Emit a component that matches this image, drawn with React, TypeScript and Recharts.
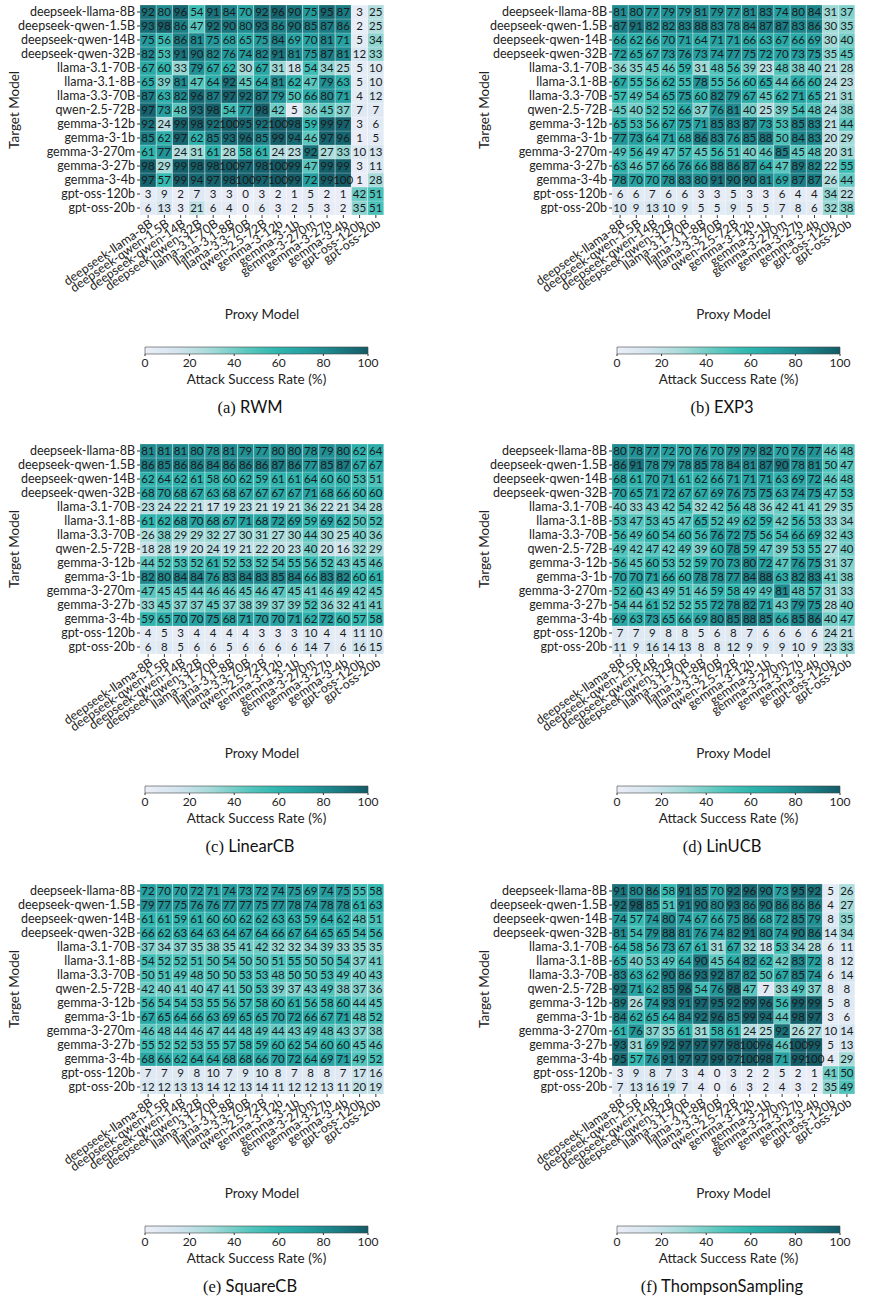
import React from 'react';
import { BarChart, Bar, XAxis, YAxis, Cell, LabelList, ComposedChart, Line, ReferenceArea } from 'recharts';

const FONT = "Lato, 'Open Sans', sans-serif";

const models = [
  'deepseek-llama-8B', 'deepseek-qwen-1.5B', 'deepseek-qwen-14B', 'deepseek-qwen-32B',
  'llama-3.1-70B', 'llama-3.1-8B', 'llama-3.3-70B', 'qwen-2.5-72B',
  'gemma-3-12b', 'gemma-3-1b', 'gemma-3-270m', 'gemma-3-27b', 'gemma-3-4b',
  'gpt-oss-120b', 'gpt-oss-20b',
];
const targetModels = models;
const proxyModels = models;

const rwm = [
  [92, 80, 96, 54, 91, 84, 70, 92, 96, 90, 75, 95, 87, 3, 25],
  [93, 98, 86, 47, 92, 90, 80, 93, 86, 90, 85, 87, 86, 2, 25],
  [75, 56, 86, 81, 75, 68, 65, 75, 84, 69, 70, 81, 71, 5, 34],
  [82, 53, 91, 90, 82, 76, 74, 82, 91, 81, 75, 87, 81, 12, 33],
  [67, 60, 33, 79, 67, 62, 30, 67, 31, 18, 54, 34, 25, 5, 10],
  [65, 39, 81, 47, 64, 92, 45, 64, 81, 62, 47, 79, 63, 5, 10],
  [87, 63, 82, 96, 87, 97, 92, 87, 79, 50, 66, 80, 71, 4, 12],
  [97, 73, 48, 93, 98, 54, 77, 98, 42, 5, 36, 45, 37, 7, 7],
  [92, 24, 99, 98, 92, 100, 95, 92, 100, 98, 59, 99, 97, 3, 6],
  [85, 62, 97, 62, 85, 93, 96, 85, 99, 94, 46, 97, 96, 1, 5],
  [61, 77, 24, 31, 61, 28, 58, 61, 24, 23, 92, 27, 33, 10, 13],
  [98, 29, 99, 98, 98, 100, 97, 98, 100, 99, 47, 99, 99, 3, 11],
  [97, 57, 99, 94, 97, 98, 100, 97, 100, 99, 72, 99, 100, 1, 28],
  [3, 9, 2, 7, 3, 3, 0, 3, 2, 1, 5, 2, 1, 42, 51],
  [6, 13, 3, 21, 6, 4, 0, 6, 3, 2, 5, 3, 2, 35, 51],
];

const exp3 = [
  [81, 80, 77, 79, 79, 81, 79, 77, 81, 83, 74, 80, 84, 31, 37],
  [87, 91, 82, 82, 83, 88, 83, 78, 84, 87, 87, 83, 86, 30, 35],
  [66, 62, 66, 70, 71, 64, 71, 71, 66, 63, 67, 66, 69, 30, 40],
  [72, 65, 67, 73, 76, 73, 74, 77, 75, 72, 70, 73, 75, 35, 45],
  [36, 35, 45, 46, 59, 31, 48, 56, 39, 23, 48, 38, 40, 21, 28],
  [67, 55, 56, 62, 55, 78, 55, 56, 60, 65, 44, 66, 60, 24, 23],
  [57, 49, 54, 65, 75, 60, 82, 79, 67, 45, 62, 71, 65, 21, 31],
  [45, 40, 52, 52, 66, 37, 76, 81, 40, 25, 39, 54, 48, 24, 38],
  [65, 53, 56, 67, 75, 71, 85, 83, 87, 73, 53, 85, 83, 21, 44],
  [77, 73, 64, 71, 68, 86, 83, 76, 85, 88, 50, 84, 83, 20, 29],
  [49, 56, 49, 47, 57, 45, 56, 51, 40, 46, 85, 45, 48, 20, 31],
  [63, 46, 57, 66, 76, 66, 88, 86, 87, 64, 47, 89, 82, 22, 55],
  [78, 70, 70, 78, 83, 80, 91, 90, 90, 81, 69, 87, 87, 26, 44],
  [6, 6, 7, 6, 6, 3, 3, 5, 3, 3, 6, 4, 4, 34, 22],
  [10, 9, 13, 10, 9, 5, 5, 9, 5, 5, 7, 8, 6, 32, 38],
];

const linearCB = [
  [81, 81, 81, 80, 78, 81, 79, 77, 80, 80, 78, 79, 80, 62, 64],
  [86, 85, 86, 86, 84, 86, 86, 86, 87, 86, 77, 85, 87, 67, 67],
  [62, 64, 62, 61, 58, 60, 62, 59, 61, 61, 64, 60, 60, 53, 51],
  [68, 70, 68, 67, 63, 68, 67, 67, 67, 67, 71, 68, 66, 60, 60],
  [23, 24, 22, 21, 17, 19, 23, 21, 19, 21, 36, 22, 21, 34, 28],
  [61, 62, 68, 70, 68, 67, 71, 68, 72, 69, 59, 69, 62, 50, 52],
  [26, 38, 29, 29, 32, 27, 30, 31, 27, 30, 44, 30, 25, 40, 36],
  [18, 28, 19, 20, 24, 19, 21, 22, 20, 23, 40, 20, 16, 32, 29],
  [44, 52, 53, 52, 61, 52, 53, 52, 54, 55, 56, 52, 43, 45, 46],
  [82, 80, 84, 84, 76, 83, 84, 83, 85, 84, 66, 83, 82, 60, 61],
  [47, 45, 45, 44, 46, 46, 45, 46, 47, 45, 41, 46, 49, 42, 45],
  [33, 45, 37, 37, 45, 37, 38, 39, 37, 39, 52, 36, 32, 41, 41],
  [59, 65, 70, 70, 75, 68, 71, 70, 70, 71, 62, 72, 60, 57, 58],
  [4, 5, 3, 4, 4, 4, 4, 3, 3, 3, 10, 4, 4, 11, 10],
  [6, 8, 5, 6, 6, 5, 6, 6, 6, 6, 14, 7, 6, 16, 15],
];

const linUCB = [
  [80, 78, 77, 72, 70, 76, 70, 79, 79, 82, 70, 76, 77, 46, 48],
  [86, 91, 78, 79, 78, 85, 78, 84, 81, 87, 90, 78, 81, 50, 47],
  [68, 61, 70, 71, 61, 62, 66, 71, 71, 71, 63, 69, 72, 46, 48],
  [70, 65, 71, 72, 67, 67, 69, 76, 75, 75, 63, 74, 75, 47, 53],
  [40, 33, 43, 42, 54, 32, 42, 56, 48, 36, 42, 41, 41, 29, 35],
  [53, 47, 53, 45, 47, 65, 52, 49, 62, 59, 42, 56, 53, 33, 34],
  [56, 49, 60, 54, 60, 56, 76, 72, 75, 56, 54, 66, 69, 32, 43],
  [49, 42, 47, 42, 49, 39, 60, 78, 59, 47, 39, 53, 55, 27, 40],
  [56, 45, 60, 53, 52, 59, 70, 73, 80, 72, 47, 76, 75, 31, 37],
  [70, 70, 71, 66, 60, 78, 78, 77, 84, 88, 63, 82, 83, 41, 38],
  [52, 60, 43, 49, 51, 46, 59, 58, 49, 49, 81, 48, 57, 31, 33],
  [54, 44, 61, 52, 52, 55, 72, 78, 82, 71, 43, 79, 75, 28, 40],
  [69, 63, 73, 65, 66, 69, 80, 85, 88, 85, 66, 85, 86, 40, 47],
  [7, 7, 9, 8, 8, 5, 6, 8, 7, 6, 6, 6, 6, 24, 21],
  [11, 9, 16, 14, 13, 8, 8, 12, 9, 9, 9, 10, 9, 23, 33],
];

const squareCB = [
  [72, 70, 70, 72, 71, 74, 73, 72, 74, 75, 69, 74, 75, 55, 58],
  [79, 77, 75, 76, 76, 77, 77, 75, 77, 78, 74, 78, 78, 61, 63],
  [61, 61, 59, 61, 60, 60, 62, 62, 63, 63, 59, 64, 62, 48, 51],
  [66, 62, 63, 64, 63, 64, 67, 64, 66, 67, 64, 65, 65, 54, 56],
  [37, 34, 37, 35, 38, 35, 41, 42, 32, 32, 34, 39, 33, 35, 35],
  [54, 52, 52, 51, 50, 54, 50, 50, 51, 55, 50, 50, 54, 37, 41],
  [50, 51, 49, 48, 50, 50, 53, 53, 48, 50, 50, 53, 49, 40, 43],
  [42, 40, 41, 40, 47, 41, 50, 53, 39, 37, 43, 49, 38, 37, 36],
  [56, 54, 54, 53, 55, 56, 57, 58, 60, 61, 56, 58, 60, 44, 45],
  [67, 65, 64, 66, 63, 69, 65, 65, 70, 72, 66, 67, 71, 48, 52],
  [46, 48, 44, 46, 47, 44, 48, 49, 44, 43, 49, 48, 43, 37, 38],
  [55, 52, 52, 53, 55, 57, 58, 59, 60, 62, 54, 60, 60, 45, 46],
  [68, 66, 62, 64, 64, 68, 68, 66, 70, 72, 64, 69, 71, 49, 52],
  [7, 7, 9, 8, 10, 7, 9, 10, 8, 7, 8, 8, 7, 17, 16],
  [12, 12, 13, 13, 14, 12, 13, 14, 11, 12, 12, 13, 11, 20, 19],
];

const thompson = [
  [91, 80, 86, 58, 91, 85, 70, 92, 96, 90, 73, 95, 92, 5, 26],
  [92, 98, 85, 51, 91, 90, 80, 93, 86, 90, 86, 86, 86, 4, 27],
  [74, 57, 74, 80, 74, 67, 66, 75, 86, 68, 72, 85, 79, 8, 35],
  [81, 54, 79, 88, 81, 76, 74, 82, 91, 80, 74, 90, 86, 14, 34],
  [64, 58, 56, 73, 67, 61, 31, 67, 32, 18, 53, 34, 28, 6, 11],
  [65, 40, 53, 49, 64, 90, 45, 64, 82, 62, 42, 83, 72, 8, 12],
  [83, 63, 62, 90, 86, 93, 92, 87, 82, 50, 67, 85, 74, 6, 14],
  [92, 71, 62, 85, 96, 54, 76, 98, 47, 7, 33, 49, 37, 8, 8],
  [89, 26, 74, 93, 91, 97, 95, 92, 99, 96, 56, 99, 99, 5, 8],
  [84, 62, 65, 64, 84, 92, 96, 85, 99, 94, 44, 98, 97, 3, 6],
  [61, 76, 37, 35, 61, 31, 58, 61, 24, 25, 92, 26, 27, 10, 14],
  [93, 31, 69, 92, 97, 97, 97, 98, 100, 96, 46, 100, 99, 5, 13],
  [95, 57, 76, 91, 97, 97, 99, 97, 100, 98, 71, 99, 100, 4, 29],
  [3, 9, 8, 7, 3, 4, 0, 3, 2, 2, 5, 2, 1, 41, 50],
  [7, 13, 16, 19, 7, 4, 0, 6, 3, 2, 4, 3, 2, 35, 49],
];

const colorbarTicks = [0, 20, 40, 60, 80, 100];

const panelTags = ['(a)', '(b)', '(c)', '(d)', '(e)', '(f)'];
const panelNames = ['RWM', 'EXP3', 'LinearCB', 'LinUCB', 'SquareCB', 'ThompsonSampling'];
const panelMatrices = [rwm, exp3, linearCB, linUCB, squareCB, thompson];

// colormap stops (value, color)
const cmapStops: [number, string][] = [
  [0, '#eceef8'],
  [15, '#d2e4ee'],
  [30, '#a3dad8'],
  [45, '#5fc8c0'],
  [58, '#31b8b0'],
  [72, '#25a0a1'],
  [86, '#1b7f86'],
  [100, '#135b67'],
];

function hexToRgb(h: string) {
  return [parseInt(h.slice(1, 3), 16), parseInt(h.slice(3, 5), 16), parseInt(h.slice(5, 7), 16)];
}
function colorFor(v: number) {
  for (let i = 0; i < cmapStops.length - 1; i++) {
    const [a, ca] = cmapStops[i];
    const [b, cb] = cmapStops[i + 1];
    if (v <= b) {
      const t = (v - a) / (b - a);
      const A = hexToRgb(ca), B = hexToRgb(cb);
      const c = A.map((x, k) => Math.round(x + (B[k] - x) * t));
      return `rgb(${c[0]},${c[1]},${c[2]})`;
    }
  }
  return cmapStops[cmapStops.length - 1][1];
}

function buildData(matrix: number[][]) {
  return proxyModels.map((p, j) => {
    const o: any = { proxy: p };
    targetModels.forEach((_, i) => {
      o[`c${i}`] = 1;
      o[`v${i}`] = matrix[i][j];
    });
    return o;
  });
}

const XTick = (props: any) => {
  const { x, y, payload } = props;
  const ty = y + 2;
  return (
    <text x={x + 3} y={ty} transform={`rotate(-35, ${x + 3}, ${ty})`} textAnchor="end" dominantBaseline="central"
      fontSize={12.5} fontFamily={FONT} fill="#222">{payload.value}</text>
  );
};

const colLayout = [
  { chartLeft: 0, plotLeft: 140, plotRight: 384, cbLeft: 145, cbRight: 368, capCenter: 250 },
  { chartLeft: 470, plotLeft: 612, plotRight: 855, cbLeft: 617, cbRight: 840, capCenter: 722 },
];
const rowBase = [0, 439, 879];
const GRID_H = 210;
const XAXIS_H = 104;

function Heatmap({ idx }: { idx: number }) {
  const matrix = panelMatrices[idx];
  const L = colLayout[idx % 2];
  const base = rowBase[Math.floor(idx / 2)];
  const data = buildData(matrix);
  const width = L.plotRight - L.chartLeft + 6;
  const height = 5 + GRID_H + XAXIS_H + 4;
  const rowsBottomFirst = targetModels.map((_, i) => 14 - i);
  return (
    <>
      <div style={{ position: 'absolute', left: L.chartLeft, top: base }}>
        <BarChart width={width} height={height} data={data} barCategoryGap={0} barGap={0}
          margin={{ top: 5, right: 6, left: 0, bottom: 4 }}>
          <XAxis dataKey="proxy" type="category" interval={0} tick={<XTick />} tickSize={3} axisLine={false}
            tickLine={{ stroke: '#333' }} height={XAXIS_H}
            label={{ value: 'Proxy Model', position: 'insideBottom', offset: 0, fontSize: 13.5, fontFamily: FONT, fill: '#222' }} />
          <YAxis type="number" domain={[0, 15]} ticks={targetModels.map((_, i) => i + 0.5)} interval={0}
            tickFormatter={(v: number) => targetModels[14 - Math.floor(v)]}
            width={L.plotLeft - L.chartLeft} tickSize={3} axisLine={false} tickLine={{ stroke: '#333' }}
            tick={{ fontSize: 12.5, fontFamily: FONT, fill: '#222' }}
            label={{ value: 'Target Model', angle: -90, position: 'insideLeft', offset: 14, fontSize: 13.5, fontFamily: FONT, fill: '#222', style: { textAnchor: 'middle' } }} />
          {rowsBottomFirst.map((i) => (
            <Bar key={i} dataKey={`c${i}`} stackId="s" isAnimationActive={false}>
              {data.map((_, j) => (
                <Cell key={j} fill={colorFor(matrix[i][j])} stroke="rgba(255,255,255,0.35)" strokeWidth={0.6} />
              ))}
              <LabelList dataKey={`v${i}`} position="center" fill="#1b1b1b" fontSize={11.5} fontFamily={FONT} />
            </Bar>
          ))}
        </BarChart>
      </div>
      <div style={{ position: 'absolute', left: L.cbLeft - 14, top: base + 341 }}>
        <ComposedChart width={L.cbRight - L.cbLeft + 28} height={46} data={colorbarTicks.map((t) => ({ x: t, y: 0.5 }))}
          margin={{ top: 6, right: 14, left: 14, bottom: 0 }}>
          <XAxis type="number" dataKey="x" domain={[0, 100]} ticks={colorbarTicks} tickSize={2} axisLine={false}
            tickLine={{ stroke: '#333' }} height={33}
            tick={{ fontSize: 12, fontFamily: FONT, fill: '#222' }}
            label={{ value: 'Attack Success Rate (%)', position: 'insideBottom', offset: 3, fontSize: 13.5, fontFamily: FONT, fill: '#222' }} />
          <YAxis hide type="number" domain={[0, 1]} width={0} />
          <Line dataKey="y" stroke="none" dot={false} isAnimationActive={false} />
          <ReferenceArea x1={0} x2={100} y1={0} y2={1} fill="url(#asrGrad)" fillOpacity={1} stroke="#444" strokeWidth={0.6} ifOverflow="visible" />
        </ComposedChart>
      </div>
      <div style={{ position: 'absolute', left: L.capCenter - 150, width: 300, top: base + 397, textAlign: 'center', fontSize: 16.5, color: '#111' }}>
        <span style={{ fontFamily: "'Liberation Serif', serif" }}>{panelTags[idx]}</span>
        <span style={{ fontFamily: FONT }}> {panelNames[idx]}</span>
      </div>
    </>
  );
}

export default function App() {
  const gradStops = Array.from({ length: 21 }, (_, k) => k * 5);
  return (
    <div style={{ position: 'absolute', left: 0, top: 0, width: 873, height: 1302, background: '#fff' }}>
      <svg width={0} height={0} style={{ position: 'absolute' }}>
        <defs>
          <linearGradient id="asrGrad" x1="0" y1="0" x2="1" y2="0">
            {gradStops.map((v) => (
              <stop key={v} offset={`${v}%`} stopColor={colorFor(v)} />
            ))}
          </linearGradient>
        </defs>
      </svg>
      {panelMatrices.map((_, idx) => (
        <Heatmap key={idx} idx={idx} />
      ))}
    </div>
  );
}
